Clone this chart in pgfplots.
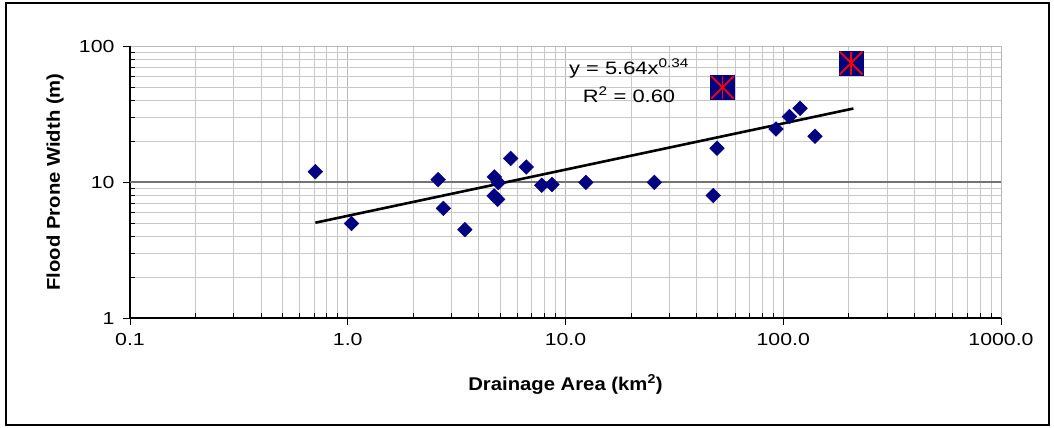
\documentclass[border=0pt]{standalone}
\usepackage{pgfplots}
\pgfplotsset{compat=1.18}
\usepackage{fontspec}
\setmainfont{Liberation Sans}[FakeStretch=1.1]
\newfontfamily\tickfont{Liberation Sans}[FakeStretch=1.22]
\definecolor{navyb}{RGB}{0,0,128}
\definecolor{gridmaj}{RGB}{185,185,185}
\definecolor{gridmin}{RGB}{200,200,200}
\begin{document}
\begin{tikzpicture}[x=1bp,y=1bp]
\fill[white] (0,0) rectangle (1054,427);
\draw[black, line width=1.5bp] (6,2) rectangle (1049,424);
\begin{axis}[
  at={(130bp,109bp)}, anchor=south west, scale only axis,
  width=871bp, height=272bp,
  xmode=log, ymode=log,
  xmin=0.1, xmax=1000, ymin=1, ymax=100,
  axis x line*=bottom, axis y line*=left,
  axis line style={-, black, line width=1.2bp},
  xtick={0.1,1,10,100,1000},
  xticklabels={0.1,1.0,10.0,100.0,1000.0},
  ytick={1,10,100},
  yticklabels={1,10,100},
  minor xtick={0.2,0.3,0.4,0.5,0.6,0.7,0.8,0.9,2,3,4,5,6,7,8,9,20,30,40,50,60,70,80,90,200,300,400,500,600,700,800,900},
  minor ytick={2,3,4,5,6,7,8,9,20,30,40,50,60,70,80,90},
  grid=both,
  major grid style={gridmaj, line width=0.8bp},
  minor grid style={gridmin, line width=0.8bp},
  extra y ticks={10}, extra y tick labels={},
  extra y tick style={grid=major, major grid style={black!55, line width=1.2bp}, major tick length=0pt},
  tick align=inside,
  major tick length=-7bp,
  minor tick length=5bp,
  tick style={black, line width=0.8bp},
  tick label style={font=\tickfont\fontsize{17.5}{20}\selectfont},
  xticklabel style={yshift=-12bp},
  yticklabel style={xshift=-12bp},
  xlabel={\textbf{Drainage Area (km\textsuperscript{2})}},
  ylabel={\textbf{Flood Prone Width (m)}},
  label style={font=\fontsize{18.5}{21}\selectfont},
  xlabel style={at={(axis description cs:0.5,-0.2647)}, anchor=base},
  ylabel style={at={(axis description cs:-0.0804,0.5)}, anchor=base},
  clip=false,
]
\addplot[black, line width=2.6bp] coordinates {(0.71,5.02) (210,34.7)};
\addplot[only marks, mark=square*, mark size=5.2bp,
  mark options={rotate=45, fill=navyb, draw=navyb}] coordinates {
  (0.71,11.9) (1.04,4.95) (2.6,10.4) (2.75,6.4) (3.45,4.47)
  (4.71,10.9) (4.92,9.9) (4.7,7.9) (4.88,7.45) (5.6,14.9)
  (6.6,12.9) (7.78,9.45) (8.67,9.6) (12.4,9.95) (25.6,9.95)
  (47.7,7.95) (49.6,17.7) (92.6,24.5) (106.7,30.3) (119.4,34.8) (140,21.7)
};
\addplot[only marks, mark=square*, mark size=11.8bp,
  mark options={fill=navyb, draw=navyb}] coordinates {(52.6,49.7) (205,74.9)};
\addplot[only marks, mark=x, mark size=16bp,
  mark options={draw=red, line width=1.8bp}] coordinates {(52.6,49.7) (205,74.9)};
\addplot[only marks, mark=|, mark size=11.5bp,
  mark options={draw=red, line width=1.8bp}] coordinates {(52.6,49.7) (205,74.9)};
\node[anchor=base, font=\tickfont\fontsize{18}{21}\selectfont] at (axis description cs:0.5729,0.897) {y = 5.64x\textsuperscript{0.34}};
\node[anchor=base, font=\tickfont\fontsize{18}{21}\selectfont] at (axis description cs:0.5729,0.794) {R\textsuperscript{2} = 0.60};
\end{axis}
\end{tikzpicture}
\end{document}
